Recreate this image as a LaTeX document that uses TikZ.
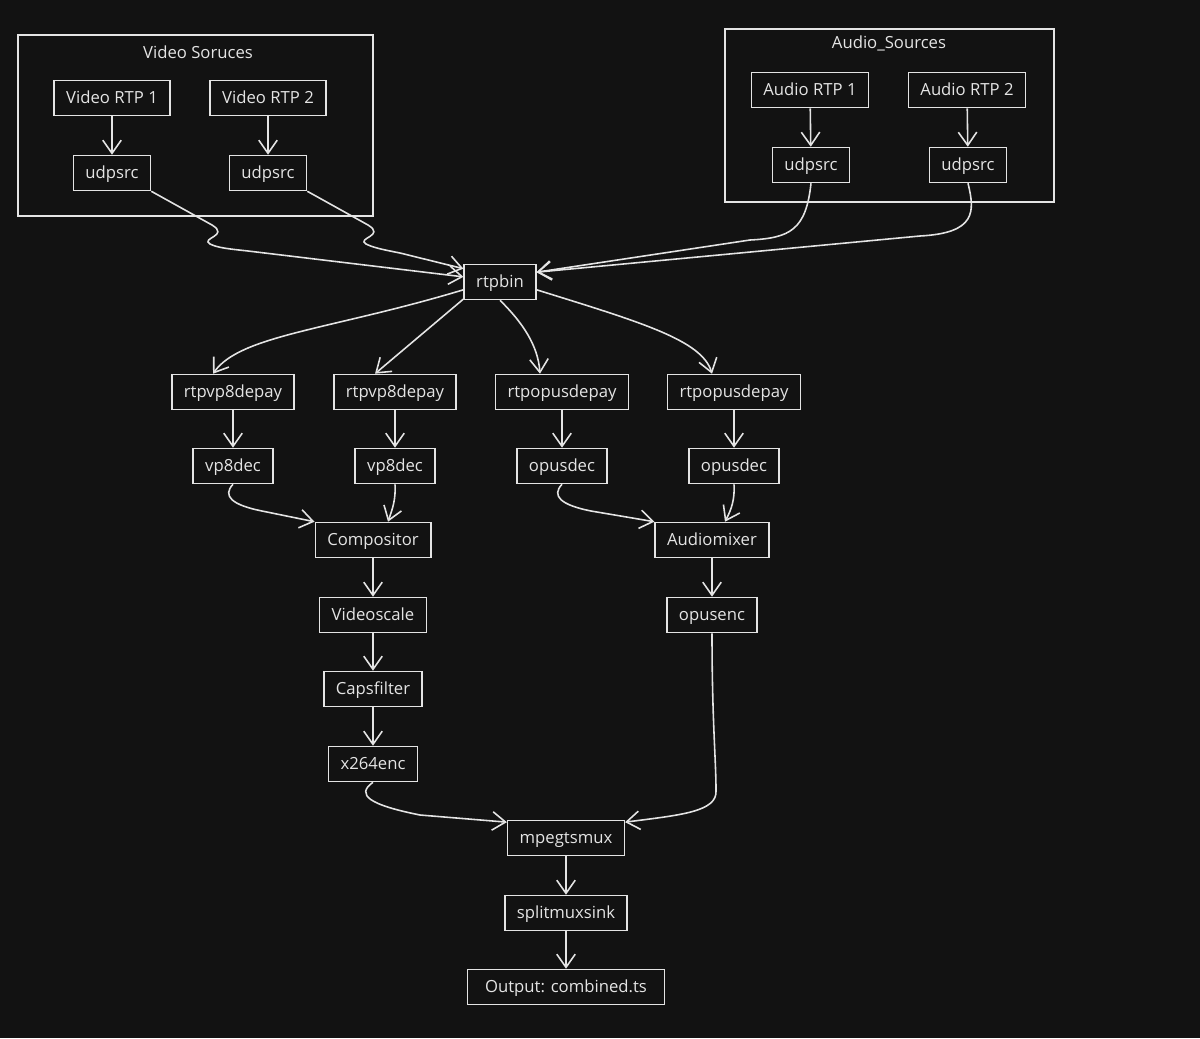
\documentclass[tikz,border=0pt]{standalone}
\usepackage{fontspec}
\setmainfont{Open Sans}
\usetikzlibrary{arrows.meta}
\definecolor{bgdark}{HTML}{121212}
\definecolor{chalk}{HTML}{E4E4E4}

\begin{document}
\begin{tikzpicture}[x=0.02cm, y=-0.02cm,
    >={Straight Barb[length=7.5pt,width=10.5pt]},
    box/.style={draw=chalk, line width=0.9pt, text=chalk, font=\fontsize{9.5}{11}\selectfont,
      minimum height=0.7cm, inner xsep=0.24cm, text height=1.6ex, text depth=0.4ex},
    title/.style={text=chalk, font=\fontsize{9.5}{11}\selectfont},
    group/.style={draw=chalk, line width=0.9pt},
    flow/.style={->, draw=chalk, line width=0.9pt}]
    \fill[bgdark] (0,0) rectangle (1200,1038);
    \useasboundingbox (0,0) rectangle (1200,1038);

    % source groups
    \draw[group] (18,35) rectangle (373,216);
    \node[title] (vtitle) at (198,52) {Video Soruces};
    \draw[group] (725,29) rectangle (1054,202);
    \node[title] (atitle) at (889,43) {Audio\_Sources};

    \node[box] (vr1) at (112,98) {Video RTP 1};
    \node[box] (vr2) at (268,98) {Video RTP 2};
    \node[box] (vu1) at (112,173) {udpsrc};
    \node[box] (vu2) at (268,173) {udpsrc};
    \node[box] (ar1) at (810,90) {Audio RTP 1};
    \node[box] (ar2) at (967,90) {Audio RTP 2};
    \node[box] (au1) at (811,165) {udpsrc};
    \node[box] (au2) at (968,165) {udpsrc};

    \node[box] (rtpbin) at (500,282) {rtpbin};

    \node[box] (dp1) at (233,392) {rtpvp8depay};
    \node[box] (dp2) at (395,392) {rtpvp8depay};
    \node[box] (dp3) at (562,392) {rtpopusdepay};
    \node[box] (dp4) at (734,392) {rtpopusdepay};
    \node[box] (dc1) at (233,466) {vp8dec};
    \node[box] (dc2) at (395,466) {vp8dec};
    \node[box] (od1) at (562,466) {opusdec};
    \node[box] (od2) at (734,466) {opusdec};

    \node[box] (comp) at (373,540) {Compositor};
    \node[box] (vscale) at (373,615) {Videoscale};
    \node[box] (caps) at (373,689) {Capsfilter};
    \node[box] (x264) at (373,764) {x264enc};
    \node[box] (amix) at (712,540) {Audiomixer};
    \node[box] (oenc) at (712,615) {opusenc};

    \node[box] (mux) at (566,838) {mpegtsmux};
    \node[box] (split) at (566,913) {splitmuxsink};
    \node[box, minimum width=3.94cm] (out) at (566,987) {Output: combined.ts};

    % straight links
    \foreach \a/\b in {vr1/vu1, vr2/vu2, ar1/au1, ar2/au2, dp1/dc1, dp2/dc2, dp3/od1, dp4/od2,
      comp/vscale, vscale/caps, caps/x264, amix/oenc, mux/split, split/out}
      \draw[flow] (\a) -- (\b);

    % into rtpbin
    \draw[flow] (vu1.south east) -- (212,225) .. controls (230,236) and (200,238) .. (210,244)
      .. controls (218,248) and (230,249) .. (248,251) -- (rtpbin.172);
    \draw[flow] (vu2.south east) -- (368,225) .. controls (386,236) and (356,238) .. (366,244)
      .. controls (374,248) and (385,250) .. (400,253) -- (rtpbin.160);
    \draw[flow] (au1.south) .. controls (806,230) and (790,238) .. (750,240) -- (rtpbin.15);
    \draw[flow] (au2.south) .. controls (975,212) and (976,233) .. (920,236) -- (rtpbin.15);

    % out of rtpbin
    \draw[flow] (rtpbin.192) .. controls (330,330) and (240,335) .. ([xshift=-0.4cm]dp1.north);
    \draw[flow] (rtpbin.205) -- ([xshift=-0.4cm]dp2.north);
    \draw[flow] (rtpbin.south) .. controls (522,322) and (538,345) .. ([xshift=-0.44cm]dp3.north);
    \draw[flow] (rtpbin.-12) .. controls (640,322) and (702,340) .. ([xshift=-0.44cm]dp4.north);

    % decoders to mixers
    \draw[flow] (dc1.south) .. controls (222,496) and (232,505) .. (262,511) -- (comp.north west);
    \draw[flow] (dc2.south) .. controls (396,500) and (392,510) .. ([xshift=0.3cm]comp.north);
    \draw[flow] (od1.south) .. controls (551,496) and (561,505) .. (591,511) -- (amix.north west);
    \draw[flow] (od2.south) .. controls (735,500) and (731,510) .. ([xshift=0.26cm]amix.north);

    % encoders to mux
    \draw[flow] (x264.south) .. controls (355,795) and (370,805) .. (420,815) -- (mux.165);
    \draw[flow] (oenc.south) .. controls (712,720) and (716,760) .. (716,790)
      .. controls (718,812) and (680,815) .. (mux.15);
  \end{tikzpicture}
\end{document}
